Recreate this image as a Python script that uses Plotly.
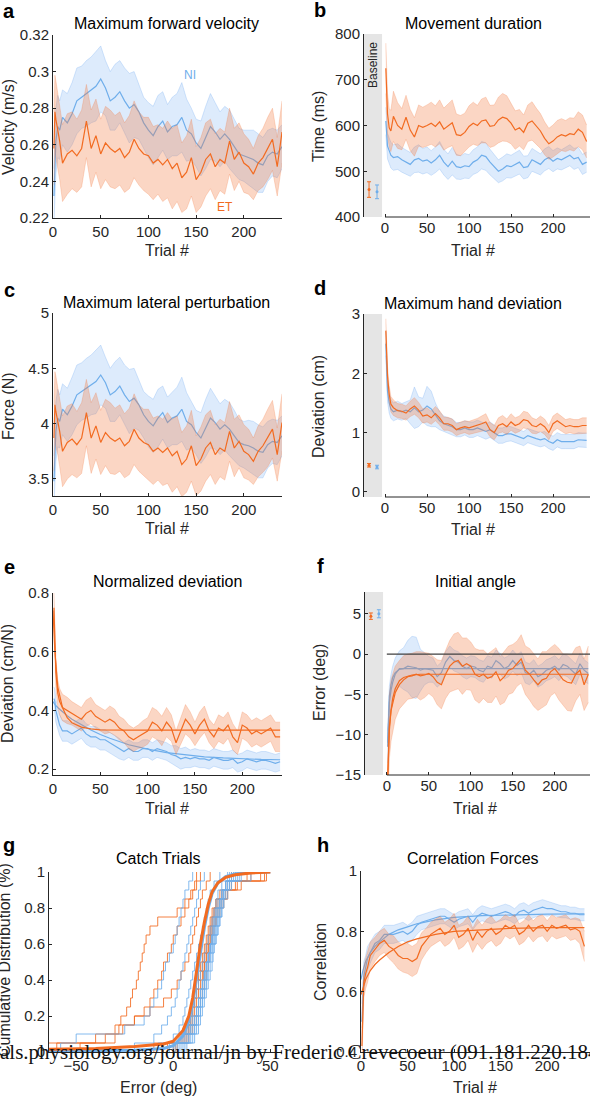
import plotly.graph_objects as go

W, H = 590, 1096
FONT = "Liberation Sans, Arial, sans-serif"
ORANGE = "#F26B21"
BLUE = "#6FAEEB"
ORANGE_FILL = "rgba(243,120,60,0.30)"
BLUE_FILL = "rgba(110,170,240,0.23)"
ORANGE_EDGE = "rgba(243,120,60,0.35)"
BLUE_EDGE = "rgba(110,170,240,0.40)"
AXC = "#262626"

trials = [1, 2, 3, 5, 7] + list(range(10, 241, 5))

# a - maximum forward velocity (m/s)
vel_ni = [0.232, 0.256, 0.262, 0.270, 0.268, 0.275,
          0.272, 0.277, 0.284, 0.286, 0.288, 0.290, 0.292, 0.296, 0.291, 0.284,
          0.286, 0.289, 0.284, 0.280, 0.282, 0.278, 0.272, 0.268, 0.265, 0.270,
          0.273, 0.267, 0.270, 0.271, 0.275, 0.268, 0.266, 0.261, 0.258, 0.264,
          0.270, 0.267, 0.263, 0.266, 0.263, 0.259, 0.255, 0.254, 0.253, 0.252,
          0.250, 0.249, 0.254, 0.256, 0.255, 0.259]
vel_ni_sem = [0.015, 0.018, 0.018, 0.017, 0.016, 0.015,
              0.016, 0.017, 0.018, 0.017, 0.018, 0.018, 0.019, 0.018, 0.015, 0.016,
              0.018, 0.017, 0.018, 0.019, 0.018, 0.015, 0.014, 0.015, 0.016, 0.017,
              0.016, 0.015, 0.016, 0.017, 0.019, 0.017, 0.014, 0.013, 0.015, 0.017,
              0.018, 0.016, 0.015, 0.015, 0.016, 0.015, 0.014, 0.014, 0.015, 0.016,
              0.016, 0.015, 0.014, 0.013, 0.013, 0.012]
vel_et = [0.258, 0.278, 0.274, 0.268, 0.262, 0.250,
          0.255, 0.257, 0.254, 0.258, 0.273, 0.258, 0.265, 0.255, 0.261, 0.258,
          0.256, 0.258, 0.253, 0.256, 0.263, 0.258, 0.255, 0.254, 0.250, 0.252,
          0.249, 0.252, 0.247, 0.250, 0.242, 0.245, 0.253, 0.241, 0.245, 0.252,
          0.255, 0.248, 0.252, 0.250, 0.262, 0.252, 0.256, 0.250, 0.248, 0.244,
          0.250, 0.253, 0.258, 0.263, 0.248, 0.267]
vel_et_sem = [0.020, 0.020, 0.021, 0.020, 0.021, 0.021,
              0.022, 0.021, 0.020, 0.021, 0.020, 0.021, 0.020, 0.019, 0.020, 0.021,
              0.020, 0.020, 0.019, 0.020, 0.021, 0.020, 0.020, 0.021, 0.020, 0.019,
              0.020, 0.021, 0.022, 0.021, 0.019, 0.020, 0.021, 0.018, 0.019, 0.020,
              0.019, 0.018, 0.017, 0.017, 0.018, 0.017, 0.016, 0.016, 0.015, 0.014,
              0.015, 0.016, 0.017, 0.017, 0.016, 0.017]

# b - movement duration (ms)
dur_ni = [610, 575, 555, 545, 535, 530,
          532, 525, 520, 515, 525, 528, 522, 525, 518, 525,
          535, 520, 510, 522, 510, 508, 512, 510, 520, 525,
          535, 532, 520, 510, 500, 505, 512, 510, 515, 520,
          508, 510, 525, 520, 515, 525, 530, 522, 528, 525,
          530, 535, 527, 530, 515, 520]
dur_ni_sem = [30, 30, 28, 28, 28, 28,
              28, 27, 27, 26, 28, 30, 28, 28, 27, 28,
              30, 28, 28, 30, 27, 26, 27, 26, 27, 28,
              30, 30, 28, 27, 25, 26, 26, 25, 25, 26,
              25, 24, 25, 24, 23, 24, 24, 23, 23, 22,
              22, 23, 23, 22, 22, 22]
dur_et = [725, 660, 625, 595, 588, 620,
          600, 592, 618, 590, 575, 600, 596, 600, 605, 598,
          608, 592, 600, 606, 580, 578, 585, 598, 605, 600,
          610, 612, 598, 600, 612, 618, 615, 605, 590, 595,
          585, 605, 610, 598, 588, 572, 560, 566, 575, 580,
          577, 582, 580, 592, 585, 565]
dur_et_sem = [55, 50, 45, 42, 45, 55,
              50, 45, 48, 45, 42, 45, 44, 45, 46, 45,
              48, 46, 48, 50, 45, 44, 42, 45, 46, 44,
              48, 50, 46, 45, 50, 52, 50, 45, 42, 40,
              38, 40, 42, 40, 38, 36, 34, 35, 36, 35,
              34, 35, 36, 38, 38, 36]
base_dur = [460, 455]
base_dur_sem = [17, 15]

# c - maximum lateral perturbation (N)
force_ni = [3.48, 3.84, 3.93, 4.05, 4.02, 4.13,
            4.08, 4.16, 4.26, 4.29, 4.32, 4.35, 4.38, 4.44, 4.37, 4.26,
            4.29, 4.34, 4.26, 4.20, 4.23, 4.17, 4.08, 4.02, 3.98, 4.05,
            4.10, 4.01, 4.05, 4.07, 4.13, 4.02, 3.99, 3.92, 3.87, 3.96,
            4.05, 4.01, 3.95, 3.99, 3.95, 3.89, 3.83, 3.81, 3.80, 3.78,
            3.75, 3.74, 3.81, 3.84, 3.83, 3.89]
force_ni_sem = [0.23, 0.27, 0.27, 0.26, 0.24, 0.23,
                0.24, 0.26, 0.27, 0.26, 0.27, 0.27, 0.29, 0.27, 0.23, 0.24,
                0.27, 0.26, 0.27, 0.29, 0.27, 0.23, 0.21, 0.23, 0.24, 0.26,
                0.24, 0.23, 0.24, 0.26, 0.29, 0.26, 0.21, 0.20, 0.23, 0.26,
                0.27, 0.24, 0.23, 0.23, 0.24, 0.23, 0.21, 0.21, 0.23, 0.24,
                0.24, 0.23, 0.21, 0.20, 0.20, 0.18]
force_et = [3.87, 4.17, 4.11, 4.02, 3.93, 3.75,
            3.83, 3.86, 3.81, 3.87, 4.10, 3.87, 3.98, 3.83, 3.92, 3.87,
            3.84, 3.87, 3.80, 3.84, 3.95, 3.87, 3.83, 3.81, 3.75, 3.78,
            3.74, 3.78, 3.71, 3.75, 3.63, 3.68, 3.80, 3.62, 3.68, 3.78,
            3.83, 3.72, 3.78, 3.75, 3.93, 3.78, 3.84, 3.75, 3.72, 3.66,
            3.75, 3.80, 3.87, 3.95, 3.72, 4.01]
force_et_sem = [0.30, 0.30, 0.32, 0.30, 0.32, 0.32,
                0.33, 0.32, 0.30, 0.32, 0.30, 0.32, 0.30, 0.29, 0.30, 0.32,
                0.30, 0.30, 0.29, 0.30, 0.32, 0.30, 0.30, 0.32, 0.30, 0.29,
                0.30, 0.32, 0.33, 0.32, 0.29, 0.30, 0.32, 0.27, 0.29, 0.30,
                0.29, 0.27, 0.26, 0.26, 0.27, 0.26, 0.24, 0.24, 0.23, 0.21,
                0.23, 0.24, 0.26, 0.26, 0.24, 0.26]

# d - maximum hand deviation (cm)
dev_ni = [2.50, 2.00, 1.70, 1.50, 1.40, 1.35,
          1.38, 1.35, 1.38, 1.35, 1.42, 1.35, 1.38, 1.45, 1.40, 1.30,
          1.20, 1.15, 1.12, 1.10, 1.05, 1.05, 1.08, 1.05, 1.05, 1.08,
          1.05, 1.02, 1.05, 1.00, 0.95, 0.95, 0.98, 0.98, 0.95, 0.93,
          0.90, 0.95, 0.92, 0.90, 0.88, 0.90, 0.85, 0.82, 0.88, 0.85,
          0.85, 0.85, 0.85, 0.88, 0.87, 0.87]
dev_ni_sem = [0.20, 0.20, 0.18, 0.17, 0.16, 0.15,
              0.15, 0.14, 0.14, 0.20, 0.35, 0.25, 0.20, 0.33, 0.30, 0.20,
              0.15, 0.13, 0.13, 0.13, 0.12, 0.12, 0.12, 0.13, 0.13, 0.13,
              0.13, 0.13, 0.13, 0.13, 0.13, 0.13, 0.13, 0.12, 0.12, 0.12,
              0.12, 0.12, 0.12, 0.12, 0.12, 0.12, 0.12, 0.12, 0.12, 0.12,
              0.12, 0.12, 0.12, 0.12, 0.12, 0.12]
dev_et = [2.72, 2.30, 1.95, 1.65, 1.48, 1.42,
          1.37, 1.36, 1.33, 1.40, 1.45, 1.38, 1.28, 1.30, 1.25, 1.32,
          1.25, 1.15, 1.15, 1.12, 1.05, 1.08, 1.10, 1.08, 1.10, 1.12,
          1.15, 1.18, 1.05, 1.00, 1.12, 1.15, 1.10, 1.18, 1.12, 1.15,
          1.22, 1.20, 1.12, 1.10, 1.15, 1.10, 1.00, 1.15, 1.20, 1.15,
          1.10, 1.12, 1.10, 1.10, 1.12, 1.12]
dev_et_sem = [0.20, 0.18, 0.16, 0.14, 0.13, 0.13,
              0.12, 0.12, 0.12, 0.13, 0.14, 0.13, 0.12, 0.12, 0.11, 0.12,
              0.12, 0.11, 0.11, 0.11, 0.10, 0.10, 0.10, 0.11, 0.11, 0.12,
              0.13, 0.14, 0.12, 0.12, 0.13, 0.14, 0.13, 0.14, 0.13, 0.13,
              0.14, 0.14, 0.13, 0.12, 0.13, 0.13, 0.12, 0.13, 0.13, 0.12,
              0.12, 0.12, 0.12, 0.12, 0.13, 0.13]
base_dev = [0.45, 0.42]
base_dev_sem = [0.03, 0.03]

# e - normalized deviation (cm/N)
norm_ni = [0.44, 0.43, 0.40, 0.37, 0.35, 0.33,
           0.33, 0.32, 0.33, 0.34, 0.32, 0.31, 0.31, 0.30, 0.30, 0.29,
           0.28, 0.27, 0.26, 0.27, 0.26, 0.26, 0.27, 0.27, 0.26, 0.27,
           0.265, 0.26, 0.25, 0.245, 0.235, 0.24, 0.235, 0.24, 0.235, 0.235,
           0.23, 0.24, 0.235, 0.23, 0.23, 0.235, 0.22, 0.225, 0.235, 0.23,
           0.225, 0.23, 0.23, 0.225, 0.22, 0.225]
norm_ni_sem = [0.04, 0.04, 0.04, 0.035, 0.035, 0.035,
               0.035, 0.035, 0.035, 0.035, 0.035, 0.035, 0.035, 0.035, 0.035, 0.035,
               0.035, 0.035, 0.03, 0.03, 0.03, 0.03, 0.03, 0.03, 0.03, 0.03,
               0.03, 0.03, 0.03, 0.035, 0.035, 0.035, 0.03, 0.03, 0.03, 0.03,
               0.03, 0.03, 0.03, 0.03, 0.03, 0.03, 0.03, 0.03, 0.03, 0.03,
               0.03, 0.03, 0.03, 0.03, 0.03, 0.03]
norm_et = [0.75, 0.62, 0.53, 0.46, 0.43, 0.41,
           0.40, 0.39, 0.38, 0.37, 0.39, 0.40, 0.38, 0.37, 0.36, 0.37,
           0.36, 0.34, 0.33, 0.31, 0.30, 0.31, 0.32, 0.33, 0.36, 0.35,
           0.33, 0.36, 0.34, 0.29, 0.33, 0.37, 0.35, 0.32, 0.35, 0.37,
           0.33, 0.31, 0.34, 0.33, 0.35, 0.31, 0.29, 0.35, 0.34, 0.32,
           0.33, 0.32, 0.33, 0.34, 0.31, 0.31]
norm_et_sem = [0.05, 0.05, 0.05, 0.045, 0.045, 0.045,
               0.045, 0.04, 0.04, 0.04, 0.045, 0.045, 0.04, 0.04, 0.04, 0.045,
               0.045, 0.04, 0.04, 0.04, 0.04, 0.04, 0.045, 0.045, 0.05, 0.05,
               0.05, 0.05, 0.045, 0.04, 0.045, 0.05, 0.045, 0.04, 0.045, 0.045,
               0.04, 0.04, 0.045, 0.045, 0.045, 0.045, 0.04, 0.045, 0.045, 0.045,
               0.045, 0.045, 0.045, 0.045, 0.05, 0.05]
fit_trials_e = [0, 2, 5, 10, 15, 20, 30, 40, 50, 60, 80, 100, 120, 140, 160, 180, 200, 220, 240]
norm_et_fit = [0.74, 0.60, 0.48, 0.41, 0.375, 0.358, 0.343, 0.337, 0.334, 0.333,
               0.333, 0.333, 0.333, 0.333, 0.333, 0.333, 0.333, 0.333, 0.333]
norm_ni_fit = [0.43, 0.42, 0.41, 0.395, 0.382, 0.37, 0.35, 0.333, 0.318, 0.305,
               0.283, 0.268, 0.256, 0.248, 0.242, 0.238, 0.235, 0.233, 0.232]

# f - initial angle error (deg)
angle_ni = [-11.5, -8.0, -6.0, -4.5, -3.5, -2.5,
            -1.8, -1.8, -1.5, -1.6, -1.7, -2.0, -1.8, -1.9, -2.0, -2.8,
            -2.3, -1.0, -0.3, -0.8, -1.0, -1.5, -1.8, -1.5, -1.6, -2.0,
            -2.2, -1.5, -1.7, -0.8, -1.2, -1.8, -1.5, -0.8, -1.4, -1.0,
            -2.3, -2.5, -2.0, -2.8, -2.5, -2.0, -1.8, -1.5, -2.0, -1.3,
            -1.5, -2.0, -2.5, -1.2, -2.0, -2.4]
angle_ni_sem = [2.0, 2.0, 2.0, 2.0, 2.0, 2.0,
                2.2, 2.6, 3.2, 3.8, 3.8, 2.6, 2.0, 1.6, 1.5, 1.3,
                1.3, 1.3, 1.3, 1.3, 1.3, 1.3, 1.3, 1.3, 1.3, 1.3,
                1.3, 1.3, 1.3, 1.3, 1.3, 1.3, 1.3, 1.3, 1.3, 1.3,
                1.3, 1.3, 1.3, 1.3, 1.3, 1.3, 1.3, 1.3, 1.3, 1.3,
                1.3, 1.3, 1.3, 1.3, 1.3, 1.3]
angle_et = [-15.5, -11.5, -9.0, -7.0, -6.0, -4.8,
            -3.8, -3.2, -2.8, -2.7, -2.5, -2.7, -2.6, -2.4, -2.8, -3.5,
            -3.8, -2.5, -1.5, -1.0, -0.8, -1.5, -1.2, -1.5, -2.5, -2.8,
            -2.5, -3.0, -2.8, -2.2, -3.3, -2.8, -2.0, -1.8, -1.2, -0.6,
            -2.0, -2.5, -3.2, -3.8, -3.2, -3.0, -2.2, -1.8, -2.5, -3.2,
            -3.5, -3.6, -2.5, -2.0, -3.8, -2.5]
angle_et_sem = [4.0, 4.0, 4.0, 3.8, 3.5, 3.3,
                3.0, 3.0, 2.8, 2.8, 2.8, 3.0, 2.8, 2.5, 2.5, 2.8,
                3.0, 3.0, 3.2, 3.5, 3.5, 3.5, 3.2, 3.0, 3.2, 3.3,
                3.0, 3.0, 3.2, 3.0, 3.0, 3.2, 3.0, 3.0, 2.8, 3.0,
                3.0, 3.2, 3.3, 3.2, 3.5, 3.3, 3.0, 3.0, 3.2, 3.2,
                3.5, 3.5, 3.3, 3.0, 3.2, 3.5]
fit_trials_f = [1, 2, 3, 5, 7, 10, 15, 20, 30, 40, 60, 100, 150, 200, 240]
angle_et_fit = [-15.5, -12.0, -9.5, -7.0, -5.5, -4.3, -3.3, -2.9, -2.6, -2.5, -2.5, -2.5, -2.5, -2.5, -2.5]
angle_ni_fit = [-11.0, -7.0, -5.2, -3.8, -2.9, -2.3, -1.9, -1.8, -1.8, -1.8, -1.8, -1.8, -1.8, -1.8, -1.8]
base_angle = [4.7, 5.0]
base_angle_sem = [0.4, 0.5]

# g - catch trial errors (deg), one list per participant
catch_et = [
    [-70, -35, -30, -27, -24, -22, -21, -19, -18, -17, -16, -15, -14, -12, -8, 2, 6, 9, 11, 12],
    [-48, -30, -26, -20, -15, -12, -10, -8, -6, -5, -3, -1, 0, 2, 4, 6, 8, 10, 12, 14],
    [-60, -40, -28, -20, -12, -5, -1, 2, 4, 6, 8, 9, 10, 11, 12, 13, 14, 15, 17, 19],
    [-5, 5, 8, 9, 10, 11, 12, 13, 14, 15, 16, 17, 18, 19, 20, 21, 23, 25, 30, 48],
    [2, 7, 9, 11, 12, 13, 14, 15, 15.5, 16, 17, 18, 19, 20, 21, 22, 24, 27, 35, 47],
    [0, 6, 8, 10, 11, 12, 13, 14, 15, 16, 17, 18, 19, 20, 22, 24, 26, 28, 33, 45],
    [-10, 4, 7, 9, 10, 11, 12, 13, 14, 15, 16, 17, 18, 19, 20, 21, 22, 24, 27, 30],
    [-3, 3, 6, 8, 9, 10, 11, 12, 13, 14, 15, 16, 17, 18, 19, 20, 22, 25, 29, 40],
    [1, 8, 10, 12, 13, 14, 15, 16, 17, 18, 18.5, 19, 20, 21, 22, 23, 25, 28, 32, 38],
]
catch_ni = [
    [-58, -50, -25, -15, -12, -10, -8, -6, -5, -4, -2, 0, 1, 2, 3, 4, 5, 6, 8, 10],
    [-20, -10, -6, -3, -1, 1, 2, 3, 4, 5, 6, 7, 8, 9, 10, 11, 12, 13, 14, 16],
    [-8, 0, 3, 5, 6, 7, 8, 9, 10, 11, 12, 13, 14, 15, 16, 17, 18, 19, 21, 24],
    [5, 9, 11, 12, 13, 14, 15, 16, 17, 18, 19, 20, 21, 22, 23, 24, 25, 26, 28, 32],
    [3, 8, 10, 12, 13, 14, 15, 16, 16.5, 17, 18, 19, 20, 21, 22, 23, 24, 26, 29, 40],
    [6, 10, 12, 13, 14, 15, 16, 17, 18, 19, 20, 21, 22, 23, 24, 25, 26, 27, 29, 33],
    [1, 7, 9, 11, 12, 13, 14, 15, 16, 17, 18, 19, 20, 20.5, 21, 22, 23, 25, 27, 35],
    [4, 8, 11, 13, 14, 15, 16, 17, 17.5, 18, 19, 20, 21, 22, 23, 24, 25, 26, 28, 30],
    [0, 6, 9, 11, 12, 13, 14, 15, 16, 17, 18, 19, 20, 21, 22, 23, 24, 25, 27, 31],
    [2, 5, 7, 9, 10, 11, 12, 13, 14, 15, 16, 17, 18, 19, 20, 21, 22, 23, 25, 28],
    [7, 11, 13, 14, 15, 16, 17, 18, 19, 20, 20.5, 21, 22, 23, 24, 25, 26, 28, 30, 34],
    [-2, 4, 8, 10, 12, 13, 14, 15, 16, 17, 18, 19, 19.5, 20, 21, 22, 24, 25, 27, 29],
]
fit_err = [-64, -40, -20, -5, 0, 5, 8, 10, 12, 14, 16, 18, 20, 23, 27, 32, 40, 50]
fit_et_cdf = [0.015, 0.02, 0.03, 0.045, 0.06, 0.12, 0.2, 0.3, 0.45, 0.6, 0.72, 0.82, 0.89, 0.94, 0.97, 0.985, 0.995, 1.0]
fit_ni_cdf = [0.005, 0.007, 0.01, 0.02, 0.035, 0.09, 0.17, 0.27, 0.41, 0.56, 0.69, 0.8, 0.88, 0.94, 0.975, 0.99, 0.998, 1.0]

# h - correlation of forces
corr_ni = [0.50, 0.60, 0.65, 0.68, 0.71, 0.73,
           0.76, 0.77, 0.79, 0.79, 0.79, 0.795, 0.80, 0.79, 0.80, 0.82,
           0.83, 0.835, 0.84, 0.845, 0.85, 0.85, 0.84, 0.83, 0.84, 0.845,
           0.85, 0.83, 0.85, 0.86, 0.855, 0.85, 0.855, 0.86, 0.865, 0.86,
           0.85, 0.865, 0.87, 0.86, 0.87, 0.875, 0.88, 0.875, 0.875, 0.87,
           0.865, 0.865, 0.86, 0.86, 0.855, 0.855]
corr_ni_sem = [0.06, 0.05, 0.05, 0.04, 0.04, 0.035,
               0.03, 0.03, 0.03, 0.03, 0.03, 0.03, 0.03, 0.03, 0.03, 0.03,
               0.025, 0.025, 0.025, 0.025, 0.025, 0.025, 0.025, 0.025, 0.025, 0.025,
               0.025, 0.025, 0.025, 0.025, 0.025, 0.025, 0.025, 0.025, 0.025, 0.025,
               0.025, 0.025, 0.025, 0.025, 0.025, 0.025, 0.025, 0.025, 0.02, 0.02,
               0.02, 0.02, 0.02, 0.02, 0.02, 0.02]
corr_et = [0.42, 0.58, 0.63, 0.66, 0.68, 0.72,
           0.74, 0.76, 0.77, 0.75, 0.74, 0.72, 0.71, 0.71, 0.70, 0.71,
           0.75, 0.77, 0.79, 0.80, 0.81, 0.79, 0.80, 0.82, 0.78, 0.79,
           0.81, 0.77, 0.80, 0.78, 0.80, 0.81, 0.79, 0.80, 0.82, 0.81,
           0.82, 0.79, 0.80, 0.82, 0.80, 0.815, 0.82, 0.80, 0.82, 0.81,
           0.815, 0.82, 0.805, 0.81, 0.80, 0.75]
corr_et_sem = [0.06, 0.06, 0.05, 0.05, 0.05, 0.045,
               0.04, 0.04, 0.04, 0.04, 0.045, 0.045, 0.045, 0.05, 0.05, 0.05,
               0.045, 0.04, 0.04, 0.04, 0.04, 0.04, 0.04, 0.04, 0.04, 0.04,
               0.04, 0.04, 0.04, 0.04, 0.04, 0.04, 0.04, 0.04, 0.035, 0.035,
               0.035, 0.035, 0.035, 0.035, 0.035, 0.035, 0.035, 0.035, 0.035, 0.035,
               0.035, 0.035, 0.035, 0.035, 0.04, 0.05]
fit_trials_h = [0, 2, 5, 10, 15, 20, 30, 40, 50, 60, 80, 100, 130, 160, 200, 240]
corr_ni_fit = [0.64, 0.67, 0.70, 0.73, 0.75, 0.765, 0.79, 0.805, 0.815, 0.825, 0.838, 0.846, 0.852, 0.855, 0.857, 0.858]
corr_et_fit = [0.59, 0.61, 0.64, 0.67, 0.69, 0.705, 0.73, 0.75, 0.765, 0.775, 0.79, 0.80, 0.806, 0.81, 0.812, 0.812]

base_x = [-19, -9.5]   # where the baseline error bars sit (ET, NI)


def px(x):
    return x / W


def py(y):
    return 1 - y / H


fig = go.Figure()
annotations = []
shapes = []


def setup_axes(n, box, xr, yr, xtv, ytv, ytt=None, xline=True):
    x0, x1, y0, y1 = box
    s = "" if n == 1 else str(n)
    common = dict(showgrid=False, zeroline=False, linecolor=AXC, linewidth=1,
                  ticks="inside", ticklen=3, tickwidth=1, tickcolor=AXC,
                  tickfont=dict(family=FONT, size=15, color=AXC), automargin=False)
    fig.layout["xaxis" + s] = dict(domain=[px(x0), px(x1)], range=xr, anchor="y" + s,
                                   tickvals=xtv, showline=xline, **common)
    fig.layout["yaxis" + s] = dict(domain=[py(y1), py(y0)], range=yr, anchor="x" + s,
                                   tickvals=ytv, ticktext=ytt, showline=True, **common)


def band(n, x, mean, sem, col, fill, edge):
    s = "" if n == 1 else str(n)
    up = [m + e for m, e in zip(mean, sem)]
    lo = [m - e for m, e in zip(mean, sem)]
    fig.add_trace(go.Scatter(x=x, y=up, xaxis="x" + s, yaxis="y" + s, mode="lines",
                             line=dict(color=edge, width=0.7), hoverinfo="skip"))
    fig.add_trace(go.Scatter(x=x, y=lo, xaxis="x" + s, yaxis="y" + s, mode="lines",
                             line=dict(color=edge, width=0.7), fill="tonexty",
                             fillcolor=fill, hoverinfo="skip"))
    fig.add_trace(go.Scatter(x=x, y=mean, xaxis="x" + s, yaxis="y" + s, mode="lines",
                             line=dict(color=col, width=1.2)))


def line(n, x, y, col, width=1.2):
    s = "" if n == 1 else str(n)
    fig.add_trace(go.Scatter(x=x, y=y, xaxis="x" + s, yaxis="y" + s, mode="lines",
                             line=dict(color=col, width=width)))


def baseline(n, vals, sems, x_end):
    s = str(n)
    xr = fig.layout["xaxis" + s].range
    shapes.append(dict(type="rect", xref="x" + s, yref="y" + s + " domain", x0=xr[0],
                       x1=x_end, y0=0, y1=1, fillcolor="#E5E5E5", line=dict(width=0), layer="below"))
    for i, col in enumerate([ORANGE, BLUE]):
        fig.add_trace(go.Scatter(x=[base_x[i]], y=[vals[i]], xaxis="x" + s, yaxis="y" + s,
                                 mode="markers", marker=dict(color=col, size=3),
                                 error_y=dict(type="data", array=[sems[i]], color=col,
                                              thickness=1, width=2)))
    # bottom axis line only under the learning trials
    shapes.append(dict(type="line", xref="x" + s, yref="y" + s + " domain", x0=0, x1=xr[1],
                       y0=0, y1=0, line=dict(color=AXC, width=1)))


def label(text, x, y, size=16, color="#000000", angle=0, family=FONT, xanchor="center"):
    annotations.append(dict(text=text, x=px(x), y=py(y), xref="paper", yref="paper",
                            showarrow=False, textangle=angle, xanchor=xanchor, yanchor="middle",
                            font=dict(family=family, size=size, color=color)))


trial_ticks = [0, 50, 100, 150, 200]

# axes
setup_axes(1, (53, 282, 35, 218), [0, 240], [0.22, 0.32], trial_ticks,
           [0.22, 0.24, 0.26, 0.28, 0.3, 0.32], ["0.22", "0.24", "0.26", "0.28", "0.3", "0.32"])
setup_axes(2, (364, 590, 34, 217), [-25, 244], [400, 800], trial_ticks,
           [400, 500, 600, 700, 800], xline=False)
setup_axes(3, (53, 282, 313, 496), [0, 240], [3.346, 5], trial_ticks,
           [3.5, 4, 4.5, 5], ["3.5", "4", "4.5", "5"])
setup_axes(4, (364, 590, 314, 497), [-25, 244], [-0.085, 3], trial_ticks,
           [0, 1, 2, 3], xline=False)
setup_axes(5, (53, 282, 593, 775), [0, 242], [0.18, 0.8], trial_ticks,
           [0.2, 0.4, 0.6, 0.8], ["0.2", "0.4", "0.6", "0.8"])
setup_axes(6, (365, 590, 592, 775), [-26, 242], [-15, 7.7], trial_ticks,
           [-15, -10, -5, 0, 5], xline=False)
setup_axes(7, (49, 282, 872, 1052), [-64, 56], [0, 1], [-50, 0, 50],
           [0, 0.2, 0.4, 0.6, 0.8, 1], ["0", "0.2", "0.4", "0.6", "0.8", "1"])
setup_axes(8, (361, 590, 871, 1052), [0, 246], [0.4, 1], trial_ticks,
           [0.4, 0.6, 0.8, 1], ["0.4", "0.6", "0.8", "1"])

# a
band(1, trials, vel_ni, vel_ni_sem, BLUE, BLUE_FILL, BLUE_EDGE)
band(1, trials, vel_et, vel_et_sem, ORANGE, ORANGE_FILL, ORANGE_EDGE)
# b
baseline(2, base_dur, base_dur_sem, -3.5)
band(2, trials, dur_ni, dur_ni_sem, BLUE, BLUE_FILL, BLUE_EDGE)
band(2, trials, dur_et, dur_et_sem, ORANGE, ORANGE_FILL, ORANGE_EDGE)
# c
band(3, trials, force_ni, force_ni_sem, BLUE, BLUE_FILL, BLUE_EDGE)
band(3, trials, force_et, force_et_sem, ORANGE, ORANGE_FILL, ORANGE_EDGE)
# d
baseline(4, base_dev, base_dev_sem, -3.5)
band(4, trials, dev_ni, dev_ni_sem, BLUE, BLUE_FILL, BLUE_EDGE)
band(4, trials, dev_et, dev_et_sem, ORANGE, ORANGE_FILL, ORANGE_EDGE)
# e
band(5, trials, norm_ni, norm_ni_sem, BLUE, BLUE_FILL, BLUE_EDGE)
line(5, fit_trials_e, norm_ni_fit, BLUE)
band(5, trials, norm_et, norm_et_sem, ORANGE, ORANGE_FILL, ORANGE_EDGE)
line(5, fit_trials_e, norm_et_fit, ORANGE)
# f
baseline(6, base_angle, base_angle_sem, -4.5)
shapes.append(dict(type="line", xref="x6", yref="y6", x0=0, x1=242, y0=0, y1=0,
                   line=dict(color="#404040", width=1.2)))
band(6, trials, angle_ni, angle_ni_sem, BLUE, BLUE_FILL, BLUE_EDGE)
line(6, fit_trials_f, angle_ni_fit, BLUE)
band(6, trials, angle_et, angle_et_sem, ORANGE, ORANGE_FILL, ORANGE_EDGE)
line(6, fit_trials_f, angle_et_fit, ORANGE)
# g - empirical cumulative distributions
for group, col in [(catch_et, "rgba(242,107,33,0.85)"), (catch_ni, "rgba(111,174,235,0.85)")]:
    for subj in group:
        vals = sorted(subj)
        n = len(vals)
        fig.add_trace(go.Scatter(x=[vals[0]] + vals, y=[0] + [(i + 1) / n for i in range(n)],
                                 xaxis="x7", yaxis="y7", mode="lines", line_shape="hv",
                                 line=dict(color=col, width=1)))
line(7, fit_err, fit_ni_cdf, BLUE, width=3)
line(7, fit_err, fit_et_cdf, ORANGE, width=3)
# h
band(8, trials, corr_ni, corr_ni_sem, BLUE, BLUE_FILL, BLUE_EDGE)
line(8, fit_trials_h, corr_ni_fit, BLUE)
band(8, trials, corr_et, corr_et_sem, ORANGE, ORANGE_FILL, ORANGE_EDGE)
line(8, fit_trials_h, corr_et_fit, ORANGE)

# titles
label("Maximum forward velocity", 166, 24)
label("Movement duration", 473, 24)
label("Maximum lateral perturbation", 166, 302)
label("Maximum hand deviation", 473, 303)
label("Normalized deviation", 167, 581)
label("Initial angle", 475, 581)
label("Catch Trials", 158, 859)
label("Correlation Forces", 473, 858)

# axis labels
label("Velocity (m/s)", 8, 127, angle=-90, color=AXC)
label("Time (ms)", 318, 127, angle=-90, color=AXC)
label("Force (N)", 8, 406, angle=-90, color=AXC)
label("Deviation (cm)", 318, 407, angle=-90, color=AXC)
label("Deviation (cm/N)", 7, 684, angle=-90, color=AXC)
label("Error (deg)", 319, 683, angle=-90, color=AXC)
label("Cumulative Distribution (%)", 4, 960, angle=-90, color=AXC)
label("Correlation", 320, 962, angle=-90, color=AXC)
for xc, yc in [(167, 250), (473, 250), (167, 528), (473, 529), (167, 808), (475, 808), (475, 1087)]:
    label("Trial #", xc, yc, color=AXC)
label("Error (deg)", 158, 1087, color=AXC)

# panel letters
for t, xc, yc in [("a", 9, 11), ("b", 320, 10), ("c", 9, 290), ("d", 320, 288),
                  ("e", 9, 567), ("f", 320, 566), ("g", 9, 845), ("h", 323, 845)]:
    label("<b>" + t + "</b>", xc, yc, size=20)

label("NI", 190, 75, size=12, color=BLUE)
label("ET", 225, 207, size=12, color=ORANGE)
label("Baseline", 373, 65, size=12, angle=-90, color=AXC)

# download stamp printed across the bottom of the page
label("als.physiology.org/journal/jn by Frederic Crevecoeur (091.181.220.184)", -2, 1052,
      size=21, color="#111111", family="Liberation Serif, Times New Roman, serif", xanchor="left")

fig.update_layout(width=W, height=H, margin=dict(l=0, r=0, t=0, b=0, autoexpand=False),
                  paper_bgcolor="white", plot_bgcolor="rgba(0,0,0,0)",
                  showlegend=False, annotations=annotations, shapes=shapes)

fig.write_html("out.html", config={"displayModeBar": False},
               post_script="document.body.style.margin='0';")
